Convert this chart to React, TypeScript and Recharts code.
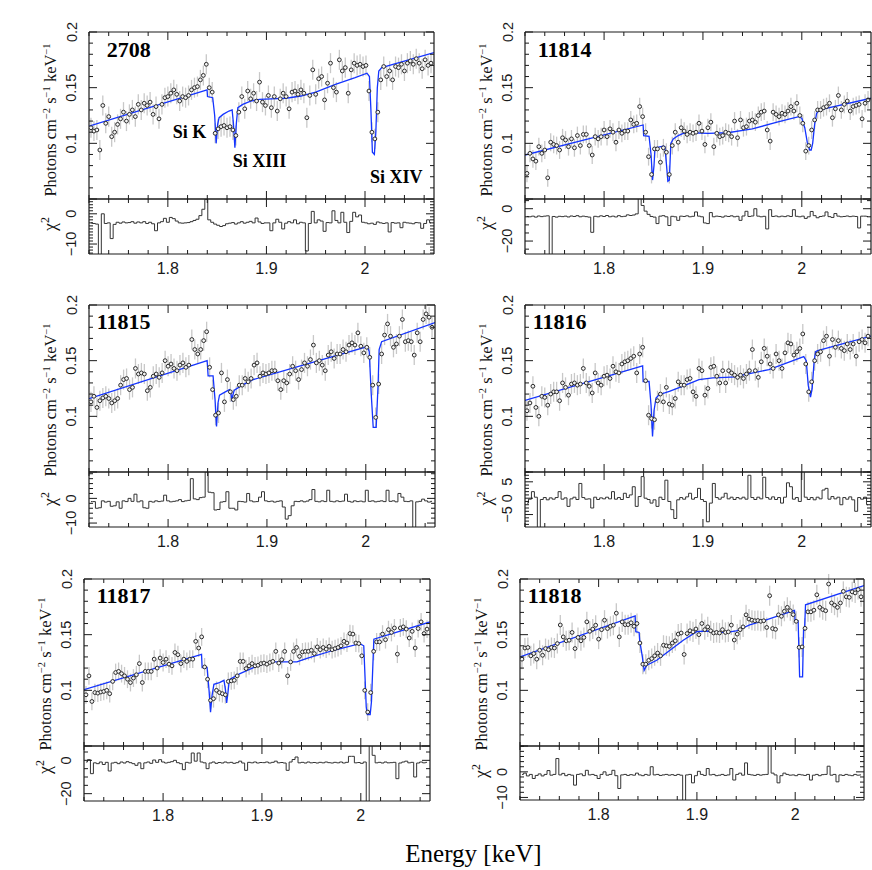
import React from 'react';
import { ComposedChart, Line, Scatter, XAxis, YAxis, ErrorBar } from 'recharts';

// ---------------- DATA ----------------
const energy = [
  1.722, 1.725, 1.728, 1.731, 1.734, 1.737, 1.740, 1.743, 1.746, 1.749,
  1.752, 1.755, 1.758, 1.761, 1.764, 1.767, 1.770, 1.773, 1.776, 1.779,
  1.782, 1.785, 1.788, 1.791, 1.794, 1.797, 1.800, 1.803, 1.806, 1.809,
  1.812, 1.815, 1.818, 1.821, 1.824, 1.827, 1.830, 1.833, 1.836, 1.839,
  1.842, 1.845, 1.848, 1.851, 1.854, 1.857, 1.860, 1.863, 1.866, 1.869,
  1.872, 1.875, 1.878, 1.881, 1.884, 1.887, 1.890, 1.893, 1.896, 1.899,
  1.902, 1.905, 1.908, 1.911, 1.914, 1.917, 1.920, 1.923, 1.926, 1.929,
  1.932, 1.935, 1.938, 1.941, 1.944, 1.947, 1.950, 1.953, 1.956, 1.959,
  1.962, 1.965, 1.968, 1.971, 1.974, 1.977, 1.980, 1.983, 1.986, 1.989,
  1.992, 1.995, 1.998, 2.001, 2.004, 2.007, 2.010, 2.013, 2.016, 2.019,
  2.022, 2.025, 2.028, 2.031, 2.034, 2.037, 2.040, 2.043, 2.046, 2.049,
  2.052, 2.055, 2.058, 2.061, 2.064, 2.067,
];

const xTicks = [1.72, 1.74, 1.76, 1.78, 1.8, 1.82, 1.84, 1.86, 1.88, 1.9, 1.92, 1.94, 1.96, 1.98, 2.0, 2.02, 2.04, 2.06];
const xLabels = [1.8, 1.9, 2.0];
const fluxTicks = [0.05, 0.06, 0.07, 0.08, 0.09, 0.1, 0.11, 0.12, 0.13, 0.14, 0.15, 0.16, 0.17, 0.18, 0.19, 0.2];
const fluxMajors = [0.05, 0.1, 0.15, 0.2];
const fluxLabels = [0.1, 0.15, 0.2];
const obsIds = ['2708', '11814', '11815', '11816', '11817', '11818'];
const errHalf = [0.009, 0.008, 0.009, 0.009, 0.008, 0.009];
const lineNames = ['Si K', 'Si XIII', 'Si XIV'];

// ObsID 2708
const flux2708 = [
  0.114, 0.111, 0.112, 0.094, 0.134, 0.118, 0.124, 0.106, 0.110, 0.117,
  0.122, 0.128, 0.120, 0.126, 0.130, 0.124, 0.135, 0.130, 0.136, 0.134,
  0.137, 0.126, 0.133, 0.122, 0.135, 0.141, 0.142, 0.145, 0.148, 0.144,
  0.138, 0.142, 0.141, 0.143, 0.148, 0.150, 0.151, 0.157, 0.161, 0.171,
  0.150, 0.146, 0.109, 0.113, 0.115, 0.116, 0.114, 0.115, 0.112, 0.107,
  0.128, 0.142, 0.131, 0.147, 0.140, 0.145, 0.138, 0.155, 0.137, 0.134,
  0.143, 0.132, 0.142, 0.129, 0.140, 0.145, 0.142, 0.131, 0.146, 0.147,
  0.144, 0.148, 0.145, 0.123, 0.143, 0.166, 0.144, 0.158, 0.160, 0.139,
  0.154, 0.172, 0.150, 0.146, 0.175, 0.165, 0.168, 0.145, 0.166, 0.172,
  0.170, 0.171, 0.169, 0.170, 0.147, 0.110, 0.104, 0.128, 0.157, 0.169,
  0.160, 0.165, 0.157, 0.169, 0.168, 0.171, 0.165, 0.172, 0.174, 0.171,
  0.176, 0.172, 0.167, 0.175, 0.170, 0.172,
];
const resid2708 = [
  -3.0, -3.2, -3.4, -14, 0.0, -3.2, -3.0, -8.2, -3.5, -2.8,
  -3.1, -2.7, -3.0, -2.9, -2.6, -3.1, -2.7, -3.0, -2.6, -3.2,
  -2.8, -3.3, -5.6, -3.0, -2.6, -1.5, -2.8, -1.2, -1.6, -2.4,
  -3.0, -3.1, -3.0, -2.9, -2.6, -2.2, -1.8, -0.6, 1.5, 4.8,
  -2.0, -2.8, -3.4, -3.8, -4.2, -3.9, -3.3, -3.1, -2.9, -3.4,
  -3.0, -2.6, -3.1, -2.8, -2.5, -3.0, -1.4, -2.7, -3.2, -3.0,
  -3.0, -5.6, -3.0, -1.8, -2.8, -5.0, -3.1, -2.6, -3.0, -2.0,
  -3.3, -2.8, -3.0, -12.3, -3.2, 0.8, -3.0, -2.0, -2.4, -5.8,
  -2.9, -3.0, 1.0, -2.2, -3.0, 0.5, -2.8, -6.2, -2.5, 0.5,
  -1.0, -0.4, -2.8, -3.0, -3.3, -3.1, -3.5, -2.7, -3.0, -3.2,
  -3.0, -6.0, -2.9, -3.1, -3.0, -4.6, -2.8, -3.0, -3.1, -3.3,
  -2.9, -3.0, -4.8, -3.2, -2.0, -3.0,
];
const modelE2708 = [1.72, 1.8398, 1.8402, 1.8455, 1.8475, 1.849, 1.8505, 1.852, 1.856, 1.862, 1.8652, 1.8665, 1.868, 1.8695, 1.871, 1.876, 1.884, 1.893, 1.905, 1.92, 1.935, 1.95, 1.97, 1.99, 2.002, 2.0045, 2.006, 2.0075, 2.0095, 2.011, 2.0125, 2.014, 2.017, 2.07];
const modelF2708 = [0.1155, 0.148, 0.142, 0.141, 0.125, 0.100, 0.117, 0.123, 0.126, 0.129, 0.130, 0.118, 0.096, 0.118, 0.132, 0.135, 0.138, 0.1395, 0.140, 0.1405, 0.1425, 0.146, 0.153, 0.159, 0.163, 0.160, 0.130, 0.092, 0.090, 0.110, 0.150, 0.165, 0.168, 0.1815];

// ObsID 11814
const flux11814 = [
  0.073, 0.091, 0.086, 0.084, 0.097, 0.091, 0.094, 0.069, 0.101, 0.099,
  0.098, 0.094, 0.105, 0.103, 0.097, 0.104, 0.096, 0.107, 0.098, 0.108,
  0.108, 0.098, 0.0895, 0.106, 0.104, 0.106, 0.112, 0.106, 0.113, 0.110,
  0.101, 0.112, 0.109, 0.111, 0.111, 0.121, 0.117, 0.118, 0.133, 0.124,
  0.110, 0.088, 0.072, 0.095, 0.095, 0.083, 0.096, 0.092, 0.072, 0.098,
  0.110, 0.101, 0.114, 0.111, 0.108, 0.110, 0.109, 0.110, 0.118, 0.111,
  0.099, 0.114, 0.119, 0.097, 0.109, 0.106, 0.107, 0.110, 0.109, 0.106,
  0.120, 0.105, 0.121, 0.114, 0.115, 0.120, 0.121, 0.119, 0.125, 0.128,
  0.129, 0.112, 0.102, 0.128, 0.126, 0.124, 0.127, 0.126, 0.129, 0.133,
  0.129, 0.136, 0.125, 0.118, 0.093, 0.098, 0.112, 0.121, 0.130, 0.130,
  0.132, 0.133, 0.136, 0.123, 0.131, 0.143, 0.130, 0.135, 0.138, 0.129,
  0.133, 0.134, 0.135, 0.122, 0.136, 0.139,
];
const resid11814 = [
  -4.8, -5.0, -4.6, -5.2, -4.5, -4.9, -4.6, -4.4, -30, -4.8,
  -5.2, -4.7, -4.9, -4.6, -5.1, -4.5, -4.8, -4.3, -5.0, -4.6,
  -4.9, -5.2, -14.6, -4.7, -5.0, -4.4, -4.8, -4.2, -5.0, -4.6,
  -5.1, -4.3, -4.9, -4.7, -3.8, -4.2, -3.9, -3.2, 7, 2.0,
  -1.5, -3.5, -4.8, -5.2, -9.2, -4.6, -4.3, -5.0, -10.4, -4.7,
  -5.0, -7.2, -4.6, -4.8, -4.4, -5.0, -4.7, -2.0, -4.6, -5.0,
  -8.8, -9.2, -2.4, -5.0, -4.6, -4.8, -5.2, -4.5, -4.8, -4.4,
  -5.0, -4.7, -7.2, -4.5, -1.6, -4.8, -4.5, 0.0, -4.6, -5.0,
  -4.7, -12.5, -0.6, -4.8, -4.5, -5.0, -4.6, -4.9, -4.4, -4.8,
  -0.6, -4.7, -5.0, -4.6, -6.0, -5.0, -1.7, -4.3, -5.6, -4.8,
  -4.5, -2.0, -4.9, -5.4, -3.0, -4.6, -5.0, -4.8, -4.5, -4.9,
  -4.6, -4.8, -11.9, -4.6, -4.6, -4.8,
];
const modelE11814 = [1.72, 1.8395, 1.84, 1.8455, 1.8475, 1.849, 1.8505, 1.8515, 1.855, 1.86, 1.8615, 1.863, 1.8645, 1.866, 1.8675, 1.87, 1.875, 1.88, 1.89, 1.905, 1.925, 1.95, 1.975, 1.997, 2.0, 2.003, 2.0055, 2.008, 2.0095, 2.011, 2.013, 2.015, 2.018, 2.07];
const modelF11814 = [0.0895, 0.1165, 0.1068, 0.1062, 0.090, 0.067, 0.080, 0.096, 0.0965, 0.0975, 0.097, 0.082, 0.066, 0.067, 0.100, 0.104, 0.107, 0.109, 0.1095, 0.109, 0.1095, 0.113, 0.119, 0.124, 0.1225, 0.114, 0.101, 0.094, 0.094, 0.100, 0.117, 0.127, 0.130, 0.1405];

// ObsID 11815
const flux11815 = [
  0.113, 0.118, 0.108, 0.114, 0.1165, 0.118, 0.116, 0.112, 0.114, 0.116,
  0.128, 0.133, 0.134, 0.124, 0.126, 0.143, 0.138, 0.139, 0.138, 0.123,
  0.126, 0.136, 0.138, 0.135, 0.139, 0.150, 0.145, 0.147, 0.143, 0.141,
  0.146, 0.148, 0.144, 0.146, 0.169, 0.160, 0.156, 0.160, 0.168, 0.176,
  0.144, 0.124, 0.101, 0.103, 0.139, 0.113, 0.133, 0.122, 0.115, 0.118,
  0.128, 0.128, 0.134, 0.131, 0.134, 0.146, 0.148, 0.136, 0.139, 0.138,
  0.139, 0.141, 0.141, 0.132, 0.124, 0.132, 0.130, 0.138, 0.145, 0.141,
  0.133, 0.142, 0.148, 0.145, 0.151, 0.164, 0.148, 0.150, 0.146, 0.141,
  0.155, 0.158, 0.152, 0.156, 0.156, 0.160, 0.158, 0.164, 0.166, 0.164,
  0.175, 0.163, 0.157, 0.162, 0.153, 0.128, 0.099, 0.129, 0.156, 0.173,
  0.183, 0.172, 0.162, 0.165, 0.172, 0.187, 0.167, 0.168, 0.167, 0.155,
  0.175, 0.167, 0.187, 0.192, 0.189, 0.180,
];
const resid11815 = [
  -1.3, -1.3, -4.0, -3.8, -1.0, -1.5, -1.2, -3.2, -3.0, -1.4,
  -4.0, -1.0, -1.3, 0.0, -1.2, 1.7, -1.4, -1.0, -3.8, -4.0,
  -1.2, -1.5, -1.0, -1.3, -1.1, 1.3, -1.0, -1.4, -1.2, -1.0,
  -0.5, -1.3, -1.0, -0.8, 8.0, -0.2, -0.5, 0.3, 0.5, 10.8,
  2.5, 2.3, -4.7, -4.5, -1.5, -1.3, 2.7, -4.0, -4.0, -4.7,
  -1.2, -1.3, -1.5, 2.0, -1.0, -1.4, -1.3, 0.5, 2.7, -1.0,
  -1.3, -1.1, -1.5, -1.2, -1.0, -3.5, -8.4, -7.0, -3.0, -1.2,
  -1.3, -1.0, -1.4, -1.1, -0.5, 3.6, -1.2, -1.4, -1.0, -1.3,
  3.3, -1.2, -1.4, -1.0, -1.3, -1.1, 1.7, -1.2, -1.5, -1.0,
  -1.3, -1.1, -1.4, 3.3, -1.2, -1.0, -1.4, -1.2, -1.0, -1.3,
  3.3, -1.2, -1.0, -1.4, 2.0, 0.5, -1.2, -1.3, -1.0, -13,
  -1.4, -1.2, -0.3, -1.0, -1.5, -1.2,
];
const modelE11815 = [1.72, 1.8395, 1.8405, 1.8455, 1.8475, 1.849, 1.8505, 1.852, 1.857, 1.862, 1.8635, 1.8645, 1.8655, 1.867, 1.875, 1.886, 1.933, 2.0017, 2.0035, 2.0055, 2.0075, 2.0105, 2.0125, 2.0135, 2.016, 2.07];
const modelF11815 = [0.1158, 0.150, 0.1364, 0.1364, 0.115, 0.091, 0.112, 0.119, 0.1215, 0.124, 0.122, 0.1135, 0.119, 0.1235, 0.128, 0.133, 0.145, 0.1627, 0.158, 0.120, 0.090, 0.090, 0.130, 0.160, 0.167, 0.1842];

// ObsID 11816
const flux11816 = [
  0.105, 0.112, 0.127, 0.108, 0.100, 0.118, 0.117, 0.110, 0.120, 0.122,
  0.122, 0.114, 0.130, 0.126, 0.119, 0.129, 0.130, 0.128, 0.129, 0.143,
  0.130, 0.127, 0.121, 0.139, 0.130, 0.128, 0.136, 0.137, 0.134, 0.145,
  0.140, 0.139, 0.147, 0.149, 0.150, 0.152, 0.154, 0.139, 0.156, 0.162,
  0.132, 0.101, 0.098, 0.097, 0.114, 0.120, 0.113, 0.126, 0.111, 0.110,
  0.116, 0.131, 0.128, 0.128, 0.133, 0.134, 0.122, 0.118, 0.143, 0.141,
  0.119, 0.125, 0.144, 0.145, 0.136, 0.130, 0.141, 0.130, 0.141, 0.139,
  0.137, 0.135, 0.137, 0.134, 0.138, 0.141, 0.160, 0.141, 0.135, 0.149,
  0.161, 0.154, 0.147, 0.143, 0.156, 0.150, 0.143, 0.157, 0.166, 0.165,
  0.155, 0.158, 0.161, 0.174, 0.147, 0.122, 0.131, 0.150, 0.156, 0.158,
  0.168, 0.172, 0.154, 0.169, 0.162, 0.168, 0.161, 0.159, 0.165, 0.160,
  0.165, 0.154, 0.167, 0.169, 0.166, 0.172,
];
const resid11816 = [
  -1.5, -0.3, 2.0, 0.3, -10, -0.4, 0.2, -0.5, 0.1, -0.3,
  0.2, 2.0, -0.3, 0.1, -2.5, -0.2, 0.3, -0.4, 4.5, 0.2,
  -0.3, -0.2, -3.0, 0.3, -0.4, 0.1, -0.2, 0.3, -0.2, 2.0,
  -0.3, 0.2, -0.4, 1.5, 0.2, 1.0, 3.5, -2.5, 0.5, 6.6,
  0.0, -0.4, -1.5, -0.5, -2.5, 0.3, -0.4, 5.5, -1.0, -3.5,
  -6.2, -0.5, 0.2, -0.3, 0.4, 1.5, -0.3, 0.2, 3.0, -0.4,
  -1.0, -7.2, -1.5, 4.5, 0.2, -0.3, 0.3, 1.5, -0.2, 0.3,
  -0.4, 0.2, -0.2, 0.3, -0.3, 7.0, 0.2, -0.4, 0.3, -0.2,
  6.4, 0.2, -0.3, 0.4, -0.4, 0.2, -1.5, 0.3, 4.7, 3.5,
  -0.3, 0.2, -1.0, 9.0, 0.3, -0.4, 0.2, -0.5, 0.3, -0.2,
  2.5, 3.0, -0.3, 0.5, -0.2, 0.3, -2.0, 0.2, -0.3, 0.4,
  -0.5, -4.0, 0.2, -0.3, 0.3, -2.0,
];
const modelE11816 = [1.72, 1.839, 1.8395, 1.8455, 1.8475, 1.849, 1.8505, 1.8525, 1.8556, 1.866, 1.8792, 1.896, 1.91, 1.923, 1.933, 1.9397, 1.9667, 2.002, 2.0045, 2.0065, 2.0088, 2.0105, 2.0125, 2.014, 2.016, 2.07];
const modelF11816 = [0.1143, 0.1454, 0.1313, 0.1313, 0.110, 0.082, 0.105, 0.1164, 0.1194, 0.1225, 0.127, 0.133, 0.1345, 0.135, 0.1355, 0.137, 0.142, 0.1537, 0.150, 0.128, 0.1173, 0.125, 0.150, 0.158, 0.159, 0.172];

// ObsID 11817
const flux11817 = [
  0.096, 0.113, 0.090, 0.098, 0.0975, 0.0985, 0.099, 0.100, 0.097, 0.108,
  0.116, 0.117, 0.115, 0.113, 0.110, 0.107, 0.111, 0.114, 0.124, 0.107,
  0.117, 0.117, 0.117, 0.128, 0.120, 0.129, 0.125, 0.128, 0.1235, 0.122,
  0.134, 0.132, 0.124, 0.128, 0.126, 0.128, 0.128, 0.144, 0.138, 0.148,
  0.121, 0.110, 0.091, 0.0925, 0.100, 0.098, 0.097, 0.096, 0.108, 0.1085,
  0.109, 0.113, 0.126, 0.126, 0.1195, 0.122, 0.124, 0.122, 0.1225, 0.124,
  0.1245, 0.1235, 0.125, 0.126, 0.135, 0.1245, 0.1275, 0.135, 0.113, 0.1255,
  0.135, 0.1385, 0.1305, 0.1345, 0.135, 0.135, 0.136, 0.133, 0.139, 0.1365,
  0.1385, 0.137, 0.1395, 0.1365, 0.1375, 0.1385, 0.140, 0.144, 0.1425, 0.151,
  0.1505, 0.1425, 0.142, 0.131, 0.100, 0.0805, 0.098, 0.135, 0.1435, 0.1435,
  0.1505, 0.1455, 0.1545, 0.152, 0.156, 0.1325, 0.156, 0.157, 0.155, 0.147,
  0.153, 0.138, 0.1555, 0.1615, 0.151, 0.155,
];
const resid11817 = [
  -1.0, 0.4, -8.0, -1.5, -2.0, -1.0, -2.5, -1.2, -6.4, -1.6,
  -1.2, -2.0, -1.0, -1.6, -0.8, -1.4, -2.0, -3.0, -1.5, -5.0,
  -1.5, -1.0, -1.8, 0.2, -1.2, 0.4, -1.0, -1.6, -1.2, -0.8,
  0.0, -1.4, -2.0, -5.6, -1.2, -1.6, 4.4, -0.5, 4.4, -1.0,
  -1.5, -5.0, -1.6, -1.0, -1.8, -1.3, -1.6, -1.0, -1.5, -1.2,
  -1.8, -1.4, -0.5, -1.6, -6.0, -1.2, -1.5, -1.0, -1.6, -1.3,
  -1.4, -1.0, -1.6, -1.2, -0.5, -1.5, -1.3, -1.6, -6.0, -1.0,
  0.5, 2.0, -1.5, -1.2, -1.6, -1.0, -1.5, -1.3, -1.6, -1.2,
  -1.5, -1.0, -1.4, -1.6, -1.2, -1.5, -1.0, -1.6, -1.2, 2.4,
  2.4, -1.5, -1.3, -1.8, -1.0, -27, 10, 3.0, -1.5, -1.2,
  -1.6, -1.0, -1.5, -1.4, -1.2, -11, -1.6, -1.0, -0.5, -1.5,
  -1.2, -10, -1.6, -1.0, -1.5, -1.2,
];
const modelE11817 = [1.72, 1.8389, 1.8395, 1.8445, 1.8465, 1.848, 1.8495, 1.8514, 1.857, 1.8616, 1.8632, 1.8643, 1.8655, 1.867, 1.8778, 1.8948, 1.9083, 1.9354, 1.9455, 1.9726, 1.999, 2.003, 2.0055, 2.0065, 2.0095, 2.0108, 2.0132, 2.07];
const modelF11817 = [0.1006, 0.1322, 0.1205, 0.1205, 0.100, 0.0804, 0.095, 0.1054, 0.107, 0.109, 0.100, 0.0886, 0.097, 0.1096, 0.115, 0.1217, 0.1256, 0.1256, 0.1286, 0.136, 0.142, 0.140, 0.085, 0.0783, 0.0783, 0.090, 0.146, 0.1614];

// ObsID 11818
const flux11818 = [
  0.128, 0.138, 0.1385, 0.131, 0.133, 0.128, 0.136, 0.1315, 0.1375, 0.1365,
  0.1385, 0.138, 0.142, 0.1587, 0.148, 0.1445, 0.145, 0.152, 0.1375, 0.1475,
  0.1445, 0.1475, 0.1615, 0.153, 0.155, 0.1585, 0.146, 0.1545, 0.163, 0.1555,
  0.1575, 0.1585, 0.1693, 0.148, 0.1615, 0.159, 0.159, 0.1607, 0.1575, 0.160,
  0.1425, 0.1235, 0.1235, 0.127, 0.1285, 0.131, 0.1335, 0.131, 0.1405, 0.140,
  0.1395, 0.1425, 0.1445, 0.1505, 0.1515, 0.1322, 0.151, 0.1535, 0.1525, 0.1551,
  0.150, 0.160, 0.1545, 0.157, 0.1535, 0.1515, 0.152, 0.1515, 0.1545, 0.152,
  0.1525, 0.1586, 0.1452, 0.1505, 0.1545, 0.157, 0.1678, 0.164, 0.163, 0.1625,
  0.1627, 0.162, 0.1625, 0.1565, 0.185, 0.1555, 0.1548, 0.1678, 0.1665, 0.171,
  0.1745, 0.1715, 0.168, 0.162, 0.1386, 0.139, 0.1557, 0.1705, 0.1705, 0.172,
  0.1858, 0.1745, 0.1725, 0.1715, 0.1955, 0.1785, 0.1765, 0.1745, 0.1785, 0.1889,
  0.184, 0.1835, 0.1885, 0.1875, 0.1905, 0.184,
];
const resid11818 = [
  -1.0, -0.5, -1.6, -1.0, -2.6, -1.4, -0.8, -1.6, -1.0, 0.5,
  -1.3, -1.0, 5.2, -1.2, -0.6, -1.5, -1.0, -1.3, -5.2, -1.0,
  -0.8, -1.5, 0.6, -1.2, -1.0, -1.4, -2.6, -1.0, 0.0, -1.3,
  -1.0, 0.6, -1.5, -6.5, -1.2, -1.0, -1.4, -1.1, -1.3, -0.5,
  -1.2, -1.5, -1.0, -1.3, 2.0, -1.2, -1.0, -1.4, -1.2, -1.0,
  -1.3, -1.1, -1.4, -1.0, -1.3, -13, -1.2, -1.0, -4.3, -1.5,
  0.2, -1.0, -1.4, 1.3, -1.2, -1.0, -1.5, -1.3, -1.0, -1.4,
  -1.2, 1.3, -3.2, -1.0, -0.5, -1.3, 3.5, -1.0, -1.2, -1.4,
  -1.0, -1.3, -1.1, -1.0, 11, -0.5, -1.2, -4.3, -1.5, -0.5,
  -1.0, -1.3, -1.2, -1.5, -1.0, -1.2, -1.4, -1.0, -3.2, -1.3,
  -1.0, -1.5, -1.1, -1.0, 2.2, -1.3, -1.0, -3.9, -1.2, -1.4,
  -1.0, -1.3, -1.5, -1.0, -1.3, -1.2,
];
const modelE11818 = [1.72, 1.8372, 1.8378, 1.8412, 1.8418, 1.8445, 1.8463, 1.849, 1.8591, 1.8726, 1.8861, 1.8997, 1.9098, 1.92, 1.93, 1.9402, 1.9537, 1.9706, 1.9993, 1.9998, 2.003, 2.0045, 2.0075, 2.0085, 2.0095, 2.0105, 2.0652, 2.07];
const modelF11818 = [0.130, 0.1669, 0.1527, 0.152, 0.1446, 0.130, 0.118, 0.1226, 0.127, 0.136, 0.145, 0.1527, 0.1533, 0.152, 0.152, 0.1533, 0.1587, 0.1633, 0.1717, 0.163, 0.1625, 0.112, 0.112, 0.1542, 0.1542, 0.1768, 0.1928, 0.194];

// residual axes
const residTicks2708 = [-13, -12, -11, -10, -9, -8, -7, -6, -5, -4, -3, -2, -1, 0, 1, 2, 3, 4];
const residTicks11814 = [-25, -20, -15, -10, -5, 0, 5];
const residTicks11815 = [-10, -8, -6, -4, -2, 0, 2, 4, 6, 8, 10];
const residTicks11816 = [-8, -7, -6, -5, -4, -3, -2, -1, 0, 1, 2, 3, 4, 5, 6, 7, 8];
const residTicks11817 = [-20, -15, -10, -5, 0, 5];
const residTicks11818 = [-10, -8, -6, -4, -2, 0, 2, 4, 6, 8, 10];
const residLabels2708 = [0, -10];
const residLabels11814 = [0, -20];
const residLabels11815 = [0, -10];
const residLabels11816 = [5, 0, -5];
const residLabels11817 = [0, -20];
const residLabels11818 = [0, -10];

// ---------------- STYLE / LAYOUT ----------------
const SANS = '"Liberation Sans", Arial, Helvetica, sans-serif';
const SERIF = '"Liberation Serif", "Times New Roman", Times, serif';
const INK = '#1a1a1a';
const BLUE = '#1434ff';
const ML = 60;
const MR = 10;
const MT = 10;
const MB = 6;
const MBR = 34;
const AX = 1; // axis band thickness (non-zero so recharts draws the axes)

type Spec = {
  id: string;
  flux: number[];
  resid: number[];
  modelE: number[];
  modelF: number[];
  err: number;
  rDomain: [number, number];
  rTicks: number[];
  rLabels: number[];
  left: number;
  width: number;
  top: number;
  split: number;
  bottom: number;
  nameDx: number;
  nameDy: number;
  titleDy: number;
  chiDy: number;
};

const PANELS: Spec[] = [
  { id: obsIds[0], flux: flux2708, resid: resid2708, modelE: modelE2708, modelF: modelF2708, err: errHalf[0], rDomain: [-13.3, 4.9], rTicks: residTicks2708, rLabels: residLabels2708, left: 89, width: 345, top: 32, split: 199, bottom: 254, nameDx: 17.7, nameDy: 24.7, titleDy: 88, chiDy: 25 },
  { id: obsIds[1], flux: flux11814, resid: resid11814, modelE: modelE11814, modelF: modelF11814, err: errHalf[1], rDomain: [-28, 6], rTicks: residTicks11814, rLabels: residLabels11814, left: 525, width: 346, top: 32, split: 199, bottom: 254, nameDx: 12.7, nameDy: 25.3, titleDy: 88, chiDy: 24 },
  { id: obsIds[2], flux: flux11815, resid: resid11815, modelE: modelE11815, modelF: modelF11815, err: errHalf[2], rDomain: [-11.6, 10.7], rTicks: residTicks11815, rLabels: residLabels11815, left: 89, width: 346, top: 305, split: 472, bottom: 527, nameDx: 7.7, nameDy: 24.3, titleDy: 95, chiDy: 27 },
  { id: obsIds[3], flux: flux11816, resid: resid11816, modelE: modelE11816, modelF: modelF11816, err: errHalf[3], rDomain: [-8.8, 8.0], rTicks: residTicks11816, rLabels: residLabels11816, left: 525, width: 346, top: 305, split: 472, bottom: 527, nameDx: 7.7, nameDy: 24.3, titleDy: 95, chiDy: 26.5 },
  { id: obsIds[4], flux: flux11817, resid: resid11817, modelE: modelE11817, modelF: modelF11817, err: errHalf[4], rDomain: [-24.4, 8.6], rTicks: residTicks11817, rLabels: residLabels11817, left: 84, width: 346, top: 579, split: 746, bottom: 801, nameDx: 12.7, nameDy: 24.3, titleDy: 95, chiDy: 21 },
  { id: obsIds[5], flux: flux11818, resid: resid11818, modelE: modelE11818, modelF: modelF11818, err: errHalf[5], rDomain: [-11, 10.1], rTicks: residTicks11818, rLabels: residLabels11818, left: 520, width: 344, top: 579, split: 746, bottom: 800, nameDx: 7.7, nameDy: 24.3, titleDy: 95, chiDy: 25 },
];

const near = (arr: number[], v: number) => arr.some((a) => Math.abs(a - v) < 1e-9);
const fmt = (v: number) => (v < 0 ? '\u2212' + String(Math.abs(v)) : String(v));

function xTickRenderer(edge: number, dir: number, withLabels: boolean) {
  return (props: any) => {
    const x = props.x;
    const v = props.payload.value;
    const major = near(xLabels, v);
    const len = major ? 8 : 4;
    return (
      <g>
        <line x1={x} x2={x} y1={edge} y2={edge + dir * len} stroke={INK} strokeWidth={1} />
        {withLabels && major ? (
          <text x={x} y={edge + 20} textAnchor="middle" fontSize={16} fontFamily={SANS} fill={INK}>
            {fmt(v)}
          </text>
        ) : null}
      </g>
    );
  };
}

function yTickRenderer(edge: number, dir: number, majors: number[], labels: number[] | null) {
  return (props: any) => {
    const y = props.y;
    const v = props.payload.value;
    const major = near(majors, v);
    const len = major ? 8 : 4;
    const lx = edge - 12.5;
    return (
      <g>
        <line x1={edge} x2={edge + dir * len} y1={y} y2={y} stroke={INK} strokeWidth={1} />
        {labels && near(labels, v) ? (
          <text x={lx} y={y} transform={`rotate(-90 ${lx} ${y})`} textAnchor="middle" fontSize={14.5} fontFamily={SANS} fill={INK}>
            {fmt(v)}
          </text>
        ) : null}
      </g>
    );
  };
}

const frame = { stroke: INK, strokeWidth: 1.2 };

function Panel({ p }: { p: Spec }) {
  const mainH = p.split - p.top;
  const resH = p.bottom - p.split;
  const W = p.width + ML + MR;
  const rows = energy.map((e, i) => ({ e, f: p.flux[i], err: p.err }));
  const modelRows = p.modelE.map((e, i) => ({ e, m: p.modelF[i] }));
  const residRows = energy.map((e, i) => ({ e, r: p.resid[i] }));
  const xCommon = {
    dataKey: 'e',
    type: 'number' as const,
    domain: [1.72, 2.07],
    allowDataOverflow: true,
    ticks: xTicks,
    interval: 0 as const,
    height: AX,
    tickLine: false,
    axisLine: frame,
  };
  const marginMain = { top: MT - AX, right: MR - AX, bottom: MB - AX, left: ML - AX };
  const marginRes = { top: MT - AX, right: MR - AX, bottom: MBR - AX, left: ML - AX };
  return (
    <>
      <div style={{ position: 'absolute', left: p.left - ML, top: p.top - MT }}>
        <ComposedChart width={W} height={mainH + MT + MB} margin={marginMain}>
          <XAxis xAxisId="b" {...xCommon} tick={xTickRenderer(MT + mainH, -1, false)} />
          <XAxis xAxisId="t" orientation="top" {...xCommon} tick={xTickRenderer(MT, 1, false)} />
          <YAxis yAxisId="l" type="number" domain={[0.05, 0.2]} allowDataOverflow ticks={fluxTicks} interval={0} width={AX} tickLine={false} axisLine={frame} tick={yTickRenderer(ML, 1, fluxMajors, fluxLabels)} />
          <YAxis yAxisId="r" orientation="right" type="number" domain={[0.05, 0.2]} allowDataOverflow ticks={fluxTicks} interval={0} width={AX} tickLine={false} axisLine={frame} tick={yTickRenderer(ML + p.width, -1, fluxMajors, null)} />
          <Scatter
            xAxisId="b"
            yAxisId="l"
            data={rows}
            dataKey="f"
            isAnimationActive={false}
            shape={(s: any) => <circle cx={s.cx} cy={s.cy} r={1.9} fill="#f4f4f4" stroke="#2a2a2a" strokeWidth={1} />}
          >
            <ErrorBar dataKey="err" direction="y" width={0} stroke="#c8c8c8" strokeWidth={1.3} isAnimationActive={false} />
          </Scatter>
          <Line xAxisId="b" yAxisId="l" data={modelRows} dataKey="m" type="linear" stroke={BLUE} strokeWidth={1.3} dot={false} activeDot={false} isAnimationActive={false} />
        </ComposedChart>
      </div>
      <div style={{ position: 'absolute', left: p.left - ML, top: p.split - MT }}>
        <ComposedChart width={W} height={resH + MT + MBR} margin={marginRes}>
          <XAxis xAxisId="b" {...xCommon} tick={xTickRenderer(MT + resH, -1, true)} />
          <XAxis xAxisId="t" orientation="top" {...xCommon} tick={xTickRenderer(MT, 1, false)} />
          <YAxis yAxisId="l" type="number" domain={p.rDomain} allowDataOverflow ticks={p.rTicks} interval={0} width={AX} tickLine={false} axisLine={frame} tick={yTickRenderer(ML, 1, p.rLabels, p.rLabels)} />
          <YAxis yAxisId="r" orientation="right" type="number" domain={p.rDomain} allowDataOverflow ticks={p.rTicks} interval={0} width={AX} tickLine={false} axisLine={frame} tick={yTickRenderer(ML + p.width, -1, p.rLabels, null)} />
          <Line xAxisId="b" yAxisId="l" data={residRows} dataKey="r" type="step" stroke="#333" strokeWidth={1} dot={false} activeDot={false} isAnimationActive={false} />
        </ComposedChart>
      </div>
    </>
  );
}

function PanelText({ p }: { p: Spec }) {
  const tx = p.left - 33.5;
  const ty = p.top + p.titleDy;
  const cx = p.left - 33;
  const cy = p.split + p.chiDy;
  return (
    <g>
      <text x={p.left + p.nameDx} y={p.top + p.nameDy} fontFamily={SERIF} fontWeight="bold" fontSize={22} fill="#000">
        {p.id}
      </text>
      <text x={tx} y={ty} transform={`rotate(-90 ${tx} ${ty})`} textAnchor="middle" fontFamily={SERIF} fontSize={16.5} fill="#111">
        {'Photons cm'}
        <tspan dy={-6} fontSize={10.5}>{'\u22122'}</tspan>
        <tspan dy={6}>{' s'}</tspan>
        <tspan dy={-6} fontSize={10.5}>{'\u22121'}</tspan>
        <tspan dy={6}>{' keV'}</tspan>
        <tspan dy={-6} fontSize={10.5}>{'\u22121'}</tspan>
      </text>
      <text x={cx} y={cy} transform={`rotate(-90 ${cx} ${cy})`} textAnchor="middle" fontFamily={SERIF} fontSize={18} fill="#111">
        {'\u03c7'}
        <tspan dy={-7} fontSize={12}>2</tspan>
      </text>
    </g>
  );
}

export default function App() {
  return (
    <div style={{ position: 'absolute', left: 0, top: 0, width: 872, height: 870, background: '#fff', overflow: 'hidden' }}>
      {PANELS.map((p) => (
        <Panel key={p.id} p={p} />
      ))}
      <svg width={872} height={870} style={{ position: 'absolute', left: 0, top: 0, pointerEvents: 'none' }}>
        {PANELS.map((p) => (
          <PanelText key={p.id} p={p} />
        ))}
        <text x={172.7} y={137.7} fontFamily={SERIF} fontWeight="bold" fontSize={18} fill="#000">{lineNames[0]}</text>
        <text x={232.7} y={166.7} fontFamily={SERIF} fontWeight="bold" fontSize={18} fill="#000">{lineNames[1]}</text>
        <text x={370} y={183.3} fontFamily={SERIF} fontWeight="bold" fontSize={18} fill="#000">{lineNames[2]}</text>
        <text x={473.5} y={862} textAnchor="middle" fontFamily={SERIF} fontSize={25} fill="#000">Energy [keV]</text>
      </svg>
    </div>
  );
}
